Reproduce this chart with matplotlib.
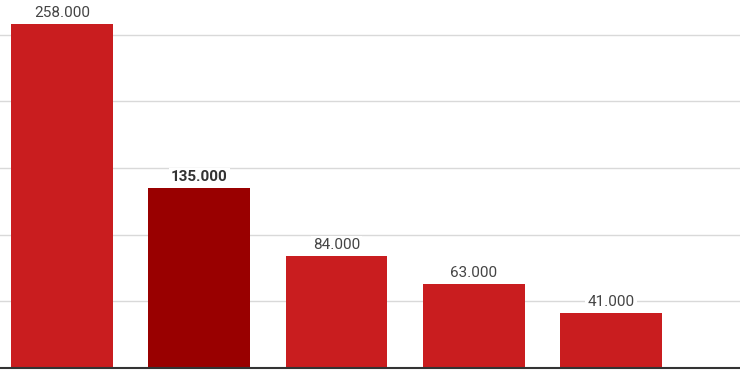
import matplotlib
matplotlib.use("Agg")
import matplotlib.pyplot as plt

categories = ["A", "B", "C", "D", "E"]
values = [258, 135, 84, 63, 41]
labels = ["258.000", "135.000", "84.000", "63.000", "41.000"]
highlight = 1

plt.rcParams['font.family'] = ['Roboto', 'DejaVu Sans']

fig = plt.figure(figsize=(7.4, 3.78), dpi=100)
ax = fig.add_axes([0, 10/378, 1, 368/378])

xs = list(range(len(values)))
colors = ["#990000" if i == highlight else "#C91D1F" for i in xs]
ax.bar(xs, values, width=0.743, color=colors, zorder=3)

ax.set_xlim(-0.452, 4.94)
ax.set_ylim(0, 276)
ax.set_yticks([50, 100, 150, 200, 250])
ax.yaxis.grid(True, color="#d9d9d9", linewidth=1, zorder=0)
ax.set_xticks([])
ax.tick_params(left=False, labelleft=False)
for s in ["top", "right", "left"]:
    ax.spines[s].set_visible(False)
ax.spines["bottom"].set_color("#333333")
ax.spines["bottom"].set_linewidth(1.5)
ax.spines["bottom"].set_zorder(4)

for i, (v, lab) in enumerate(zip(values, labels)):
    ax.annotate(lab, (i, v), xytext=(0, 2.8), textcoords="offset points",
                ha="center", va="bottom", fontsize=11,
                color="#333333" if i == highlight else "#444444",
                fontweight="bold" if i == highlight else "normal",
                bbox=dict(boxstyle="square,pad=0.15", fc="white", ec="none"),
                zorder=5)

fig.savefig("out.png", dpi=100)
